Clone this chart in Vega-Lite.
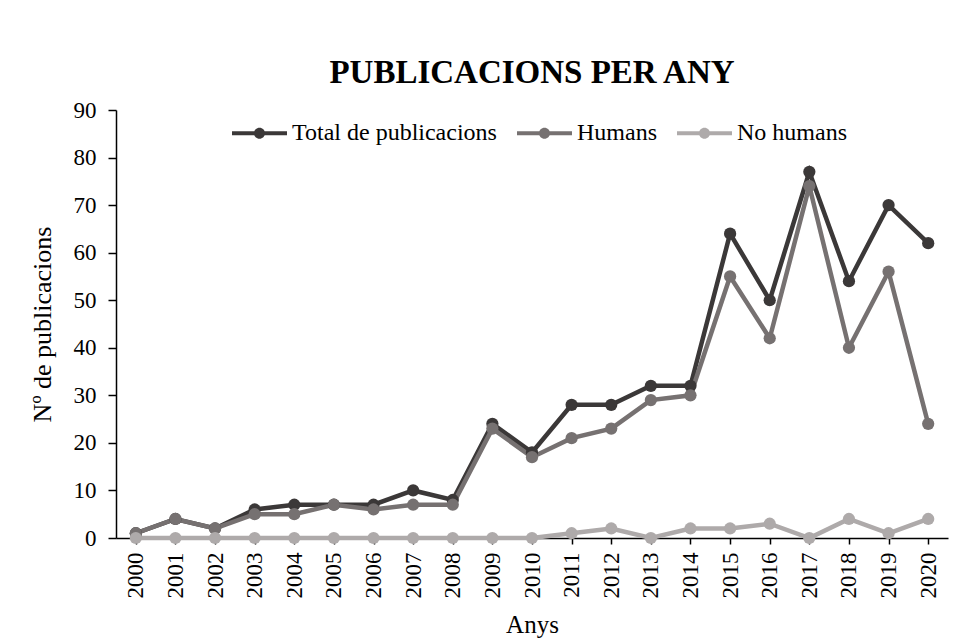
{
  "$schema": "https://vega.github.io/schema/vega-lite/v6.json",
  "width": 832,
  "height": 428,
  "autosize": {"type": "none"},
  "padding": {"left": 116, "top": 110, "right": 18, "bottom": 103},
  "background": "white",
  "title": {"text": "PUBLICACIONS PER ANY", "font": "Liberation Serif", "fontSize": 33, "fontWeight": "bold", "color": "black", "anchor": "middle", "baseline": "alphabetic", "offset": -17},
  "config": {
    "font": "Liberation Serif",
    "view": {"stroke": null},
    "axis": {"labelFont": "Liberation Serif", "titleFont": "Liberation Serif", "labelColor": "black", "titleColor": "black", "domainColor": "black", "tickColor": "black", "domainWidth": 1.5, "tickWidth": 1.5, "grid": false, "titleFontWeight": "normal"},
    "legend": {"labelFont": "Liberation Serif", "labelColor": "black"}
  },
  "data": {"values": [
    {"year": "2000", "series": "Total de publicacions", "value": 1},
    {"year": "2001", "series": "Total de publicacions", "value": 4},
    {"year": "2002", "series": "Total de publicacions", "value": 2},
    {"year": "2003", "series": "Total de publicacions", "value": 6},
    {"year": "2004", "series": "Total de publicacions", "value": 7},
    {"year": "2005", "series": "Total de publicacions", "value": 7},
    {"year": "2006", "series": "Total de publicacions", "value": 7},
    {"year": "2007", "series": "Total de publicacions", "value": 10},
    {"year": "2008", "series": "Total de publicacions", "value": 8},
    {"year": "2009", "series": "Total de publicacions", "value": 24},
    {"year": "2010", "series": "Total de publicacions", "value": 18},
    {"year": "2011", "series": "Total de publicacions", "value": 28},
    {"year": "2012", "series": "Total de publicacions", "value": 28},
    {"year": "2013", "series": "Total de publicacions", "value": 32},
    {"year": "2014", "series": "Total de publicacions", "value": 32},
    {"year": "2015", "series": "Total de publicacions", "value": 64},
    {"year": "2016", "series": "Total de publicacions", "value": 50},
    {"year": "2017", "series": "Total de publicacions", "value": 77},
    {"year": "2018", "series": "Total de publicacions", "value": 54},
    {"year": "2019", "series": "Total de publicacions", "value": 70},
    {"year": "2020", "series": "Total de publicacions", "value": 62},
    {"year": "2000", "series": "Humans", "value": 1},
    {"year": "2001", "series": "Humans", "value": 4},
    {"year": "2002", "series": "Humans", "value": 2},
    {"year": "2003", "series": "Humans", "value": 5},
    {"year": "2004", "series": "Humans", "value": 5},
    {"year": "2005", "series": "Humans", "value": 7},
    {"year": "2006", "series": "Humans", "value": 6},
    {"year": "2007", "series": "Humans", "value": 7},
    {"year": "2008", "series": "Humans", "value": 7},
    {"year": "2009", "series": "Humans", "value": 23},
    {"year": "2010", "series": "Humans", "value": 17},
    {"year": "2011", "series": "Humans", "value": 21},
    {"year": "2012", "series": "Humans", "value": 23},
    {"year": "2013", "series": "Humans", "value": 29},
    {"year": "2014", "series": "Humans", "value": 30},
    {"year": "2015", "series": "Humans", "value": 55},
    {"year": "2016", "series": "Humans", "value": 42},
    {"year": "2017", "series": "Humans", "value": 74},
    {"year": "2018", "series": "Humans", "value": 40},
    {"year": "2019", "series": "Humans", "value": 56},
    {"year": "2020", "series": "Humans", "value": 24},
    {"year": "2000", "series": "No humans", "value": 0},
    {"year": "2001", "series": "No humans", "value": 0},
    {"year": "2002", "series": "No humans", "value": 0},
    {"year": "2003", "series": "No humans", "value": 0},
    {"year": "2004", "series": "No humans", "value": 0},
    {"year": "2005", "series": "No humans", "value": 0},
    {"year": "2006", "series": "No humans", "value": 0},
    {"year": "2007", "series": "No humans", "value": 0},
    {"year": "2008", "series": "No humans", "value": 0},
    {"year": "2009", "series": "No humans", "value": 0},
    {"year": "2010", "series": "No humans", "value": 0},
    {"year": "2011", "series": "No humans", "value": 1},
    {"year": "2012", "series": "No humans", "value": 2},
    {"year": "2013", "series": "No humans", "value": 0},
    {"year": "2014", "series": "No humans", "value": 2},
    {"year": "2015", "series": "No humans", "value": 2},
    {"year": "2016", "series": "No humans", "value": 3},
    {"year": "2017", "series": "No humans", "value": 0},
    {"year": "2018", "series": "No humans", "value": 4},
    {"year": "2019", "series": "No humans", "value": 1},
    {"year": "2020", "series": "No humans", "value": 4}
  ]},
  "encoding": {
    "x": {"field": "year", "type": "ordinal", "scale": {"type": "point", "padding": 0.5},
      "axis": {"title": "Anys", "titleFont": "Liberation Serif", "labelFont": "Liberation Serif", "titleFontSize": 25, "labelFontSize": 23, "labelAngle": -90, "tickSize": 6, "labelPadding": 8, "titlePadding": 14}},
    "y": {"field": "value", "type": "quantitative", "scale": {"domain": [0, 90], "nice": false, "zero": true},
      "axis": {"title": "Nº de publicacions", "titleFont": "Liberation Serif", "labelFont": "Liberation Serif", "titleFontSize": 26, "labelFontSize": 23, "values": [0,10,20,30,40,50,60,70,80,90], "tickSize": 8, "labelPadding": 12, "titlePadding": 18}},
    "color": {"field": "series", "type": "nominal",
      "scale": {"domain": ["Total de publicacions", "Humans", "No humans"], "range": ["#3B3838", "#767171", "#AEAAAA"]},
      "legend": {"title": null, "orient": "none", "direction": "horizontal", "legendX": 116, "legendY": -4.5, "padding": 0,
        "labelFont": "Liberation Serif", "labelFontSize": 24, "labelLimit": 400, "labelOffset": 5, "columnPadding": 20,
        "symbolType": "M-1,-0.075 L-0.18,-0.075 L-0.18,0.075 L-1,0.075 Z M0.18,-0.075 L1,-0.075 L1,0.075 L0.18,0.075 Z M-0.2,0 A0.2,0.2 0 1,1 0.2,0 A0.2,0.2 0 1,1 -0.2,0 Z",
        "symbolSize": 3025, "symbolStrokeWidth": 0,
        "encode": {"symbols": {"update": {"fill": {"scale": "color", "field": "value"}, "strokeWidth": {"value": 0}, "opacity": {"value": 1}}}}}
    }
  },
  "layer": [
    {"mark": {"type": "line", "strokeWidth": 4.5}},
    {"mark": {"type": "point", "filled": true, "size": 150, "opacity": 1}}
  ]
}
